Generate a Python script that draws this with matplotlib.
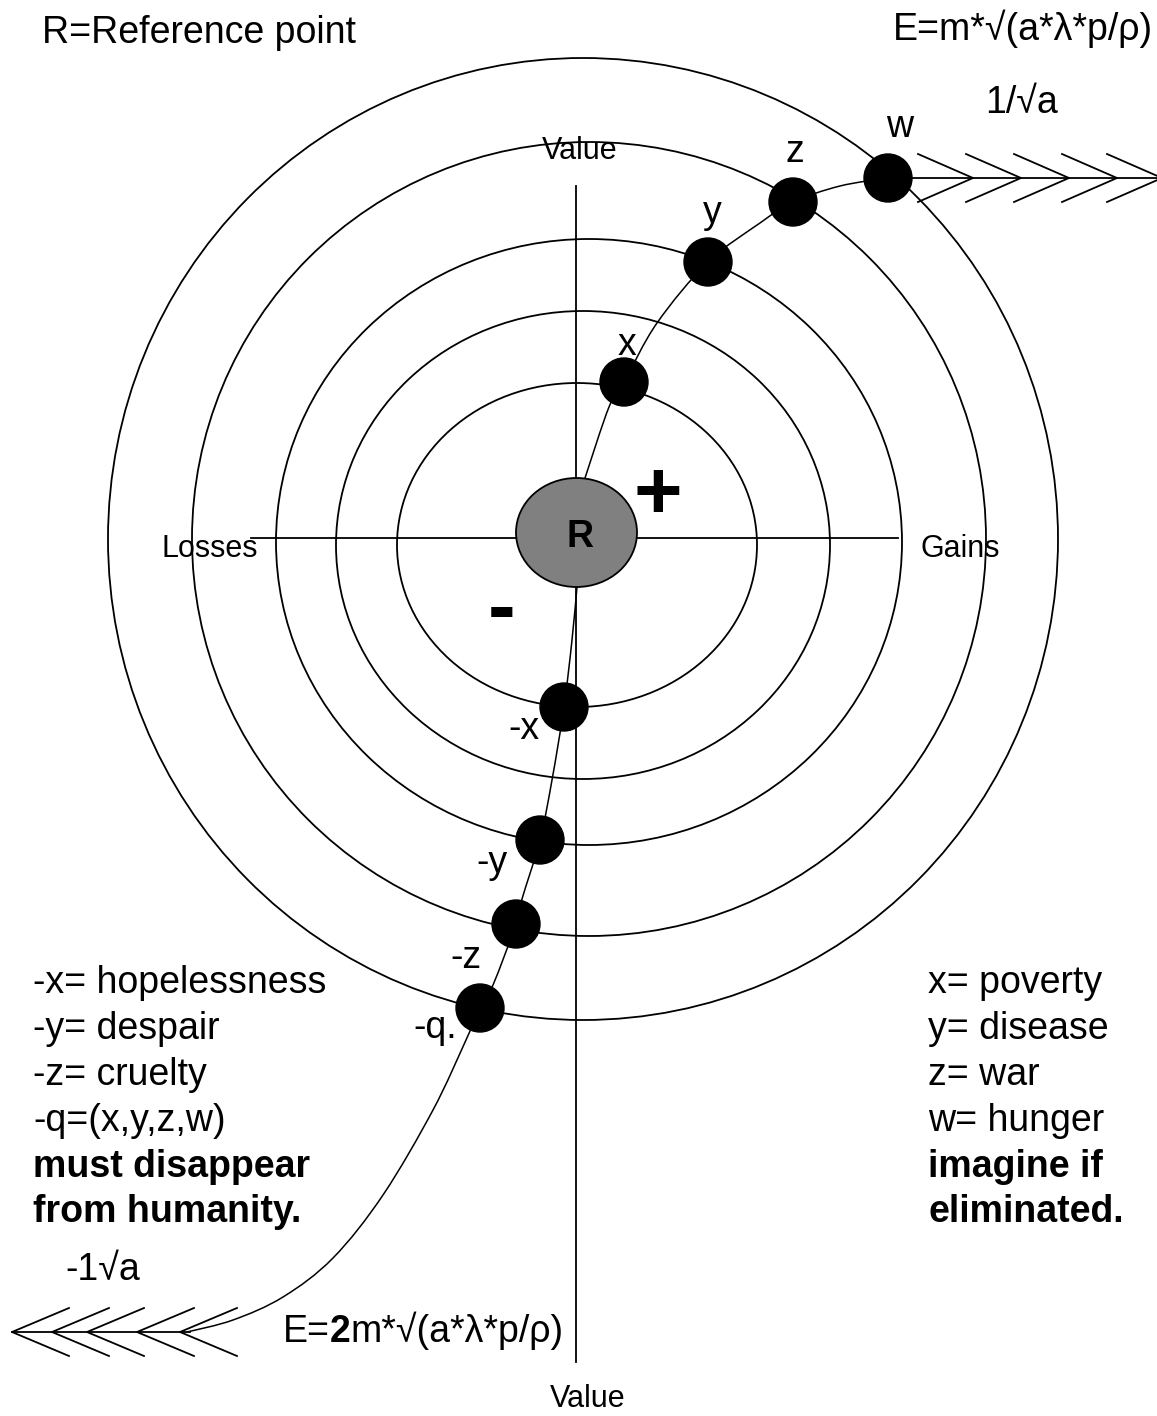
import numpy as np
import matplotlib
matplotlib.use("Agg")
import matplotlib.pyplot as plt
from matplotlib.patches import Ellipse, Circle, PathPatch
from matplotlib.path import Path

plt.rcParams['font.family'] = ['Liberation Sans', 'DejaVu Sans']

# ---------------- data ----------------
ring_cx = [577, 583, 589, 589, 583]
ring_cy = [545, 545, 542, 539, 539]
ring_rx = [180, 247, 313, 397, 475]
ring_ry = [162, 234, 303, 397, 481]

pos_labels = ["x", "y", "z", "w"]
pos_dot_x = [624, 708, 793, 888]
pos_dot_y = [382, 262, 202, 178]

neg_labels = ["-x", "-y", "-z", "-q."]
neg_dot_x = [564, 540, 516, 480]
neg_dot_y = [707, 840, 924, 1008]

upper_curve_x = [585, 609, 624, 657, 708, 760, 793, 840, 888]
upper_curve_y = [478, 407, 382, 323, 262, 223, 202, 186, 178]
lower_curve_x = [577, 572, 564, 552, 540, 522, 516, 493, 480, 466, 433, 383, 333, 283, 233, 187]
lower_curve_y = [587, 640, 707, 780, 840, 899, 924, 985, 1008, 1040, 1110, 1195, 1258, 1297, 1320, 1332]

right_arrow_tips = [973, 1021, 1069, 1117, 1162]
left_arrow_tips = [12, 52, 87, 137, 180]

left_legend = ["-x= hopelessness", "-y= despair", "-z= cruelty", "-q=(x,y,z,w)",
               "must disappear", "from humanity."]
right_legend = ["x= poverty", "y= disease", "z= war", "w= hunger",
                "imagine if", "eliminated."]
legend_bold = [False, False, False, False, True, True]

# ---------------- figure ----------------
W, H = 1157, 1416
fig = plt.figure(figsize=(W / 100, H / 100), dpi=100)
ax = fig.add_axes([0, 0, 1, 1])
ax.set_xlim(0, W)
ax.set_ylim(H, 0)
ax.axis('off')

LW = 1.3
FS = 27

# rings
for cx, cy, rx, ry in zip(ring_cx, ring_cy, ring_rx, ring_ry):
    ax.add_patch(Ellipse((cx, cy), 2 * rx, 2 * ry, fill=False, lw=LW,
                         ec='black', zorder=2))

# axes lines
ax.plot([251, 898], [538, 538], color='black', lw=LW, zorder=3)
ax.plot([576, 576], [186, 1362], color='black', lw=LW, zorder=3)


def smooth_path(xs, ys):
    P = np.column_stack([xs, ys]).astype(float)
    n = len(P)
    verts = [P[0]]
    codes = [Path.MOVETO]
    for i in range(n - 1):
        p0 = P[i - 1] if i > 0 else P[i]
        p1 = P[i]
        p2 = P[i + 1]
        p3 = P[i + 2] if i + 2 < n else P[i + 1]
        c1 = p1 + (p2 - p0) / 6.0
        c2 = p2 - (p3 - p1) / 6.0
        verts += [c1, c2, p2]
        codes += [Path.CURVE4] * 3
    return Path(verts, codes)


ax.add_patch(PathPatch(smooth_path(upper_curve_x, upper_curve_y), fill=False,
                       lw=1.1, ec='black', zorder=3))
ax.add_patch(PathPatch(smooth_path(lower_curve_x, lower_curve_y), fill=False,
                       lw=1.1, ec='black', zorder=3))

# arrows (feathered)
ax.plot([888, 1160], [178, 178], color='black', lw=LW, zorder=3)
for t in right_arrow_tips:
    ax.plot([t - 55, t, t - 55], [154, 178, 202], color='black', lw=LW, zorder=3)
ax.plot([12, 190], [1332, 1332], color='black', lw=LW, zorder=3)
for t in left_arrow_tips:
    ax.plot([t + 57, t, t + 57], [1308, 1332, 1356], color='black', lw=LW, zorder=3)

# reference point
ax.add_patch(Ellipse((576.5, 532.5), 121, 109, fc='#808080', ec='black',
                     lw=LW, zorder=4))
ax.text(580, 547, "R", fontsize=FS, fontweight='bold', ha='center',
        va='baseline', zorder=6)

# dots
for x, y in zip(pos_dot_x + neg_dot_x, pos_dot_y + neg_dot_y):
    ax.add_patch(Circle((x, y), 24, color='black', zorder=5))

pos_lab_xy = [(627, 355), (712, 223), (795, 162), (900, 137)]
for lab, (x, y) in zip(pos_labels, pos_lab_xy):
    ax.text(x, y, lab, fontsize=FS, ha='center', va='baseline')
neg_lab_xy = [(524, 739), (492, 873), (466, 968), (435, 1038)]
for lab, (x, y) in zip(neg_labels, neg_lab_xy):
    ax.text(x, y, lab, fontsize=FS, ha='center', va='baseline')

# signs
ax.text(658, 519, "+", fontsize=60, fontweight='bold', ha='center', va='baseline')
ax.text(502, 634, "-", fontsize=60, fontweight='bold', ha='center', va='baseline')

# axis labels
ax.text(580, 159, "Value", fontsize=22, ha='center', va='baseline', zorder=6)
ax.text(588, 1407, "Value", fontsize=22, ha='center', va='baseline')
ax.text(162, 557, "Losses", fontsize=22, ha='left', va='baseline', zorder=6)
ax.text(920, 557, "Gains", fontsize=22, ha='left', va='baseline', zorder=6)

# titles / formulas
ax.text(42, 43, "R=Reference point", fontsize=FS, ha='left', va='baseline')
ax.text(1153, 40, "E=m*\u221a(a*\u03bb*p/\u03c1)", fontsize=FS, ha='right', va='baseline')
ax.text(985, 113, "1/\u221aa", fontsize=FS, ha='left', va='baseline')
ax.text(65, 1280, "-1\u221aa", fontsize=FS, ha='left', va='baseline')

t1 = ax.text(283, 1342, "E=", fontsize=FS, ha='left', va='baseline')
t2 = ax.annotate("2", xy=(1, 0), xycoords=t1, fontsize=FS, fontweight='bold',
                 ha='left', va='bottom')
ax.annotate("m*\u221a(a*\u03bb*p/\u03c1)", xy=(1, 0), xycoords=t2, fontsize=FS,
            ha='left', va='bottom')

# legends
baselines = [993, 1039, 1085, 1131, 1177, 1222]
for txt, yb, b in zip(left_legend, baselines, legend_bold):
    ax.text(33, yb, txt, fontsize=FS, ha='left', va='baseline',
            fontweight='bold' if b else 'normal')
for txt, yb, b in zip(right_legend, baselines, legend_bold):
    ax.text(928, yb, txt, fontsize=FS, ha='left', va='baseline',
            fontweight='bold' if b else 'normal')

fig.savefig("out.png", dpi=100, facecolor='white')
